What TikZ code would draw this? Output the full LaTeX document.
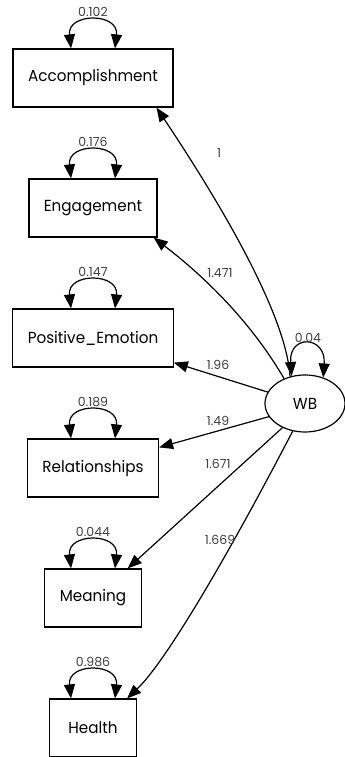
\documentclass[tikz,border=0pt]{standalone}
\usepackage{fontspec}
\setmainfont{Poppins}
\newfontfamily\boxfont{Poppins}[FakeStretch=0.95]
\usetikzlibrary{
    arrows.meta,
    shapes.geometric
}

\begin{document}
\begin{tikzpicture}[x=1pt,y=1pt,
  obs/.style={draw,line width=1.2pt,minimum height=58pt,minimum width=87pt,inner xsep=15pt,font=\boxfont\fontsize{16}{18}\selectfont},
  lat/.style={draw,ellipse,line width=1.2pt,minimum width=80pt,minimum height=57pt,font=\boxfont\fontsize{16}{18}\selectfont},
  load/.style={line width=1.2pt,-{Triangle[length=14pt,width=11pt]}},
  var/.style={line width=1.2pt,{Triangle[length=14pt,width=11pt]}-{Triangle[length=14pt,width=11pt]}},
  est/.style={font=\fontsize{12.5}{13}\selectfont,text=black!75,inner sep=1pt}]

\useasboundingbox (0,0) rectangle (345,757);

% Indicators
\node[obs] (acc) at (93,679) {Accomplishment};
\node[obs] (eng) at (93,549) {Engagement};
\node[obs] (pe)  at (93,419) {Positive\_Emotion};
\node[obs] (rel) at (93,289) {Relationships};
\node[obs] (mea) at (93,159) {Meaning};
\node[obs] (hea) at (93,29)  {Health};

% Latent factor
\node[lat] (wb) at (305,353.5) {WB};

% Residual variances
\foreach \n/\v in {acc/0.102, eng/0.176, pe/0.147, rel/0.189, mea/0.044, hea/0.986} {
  \draw[var] ([xshift=-22pt]\n.north) .. controls +(-4,36) and +(4,36) .. ([xshift=22pt]\n.north);
  \node[est] (v\n) at ([yshift=36pt]\n.north) {\v};
}
\draw[var] (wb.116) .. controls +(-3,42) and +(3,42) .. (wb.55);
\node[est] (vwb) at (308,419) {0.04};

% Loadings
\draw[load] (wb.119) .. controls +(-3,50) and +(86,-129) .. ([xshift=-17pt]acc.south east);
\draw[load] (wb.130) .. controls +(-31,53) and +(56,-43) .. ([xshift=-4pt]eng.south east);
\draw[load] (wb.163) -- ([yshift=5pt]pe.south east);
\draw[load] (wb.200) -- ([yshift=-9pt]rel.north east);
\draw[load] (wb.227) -- ([xshift=-14pt]mea.north east);
\draw[load] (wb.246) .. controls +(-75,-144) and +(35,33) .. ([xshift=-10pt]hea.north east);

% Loading labels
\node[est] (lacc) at (219,604) {1};
\node[est] (leng) at (220,484) {1.471};
\node[est] (lpe)  at (218,392) {1.96};
\node[est] (lrel) at (218,336) {1.49};
\node[est] (lmea) at (218,293) {1.671};
\node[est] (lhea) at (220,217) {1.669};

\end{tikzpicture}
\end{document}
